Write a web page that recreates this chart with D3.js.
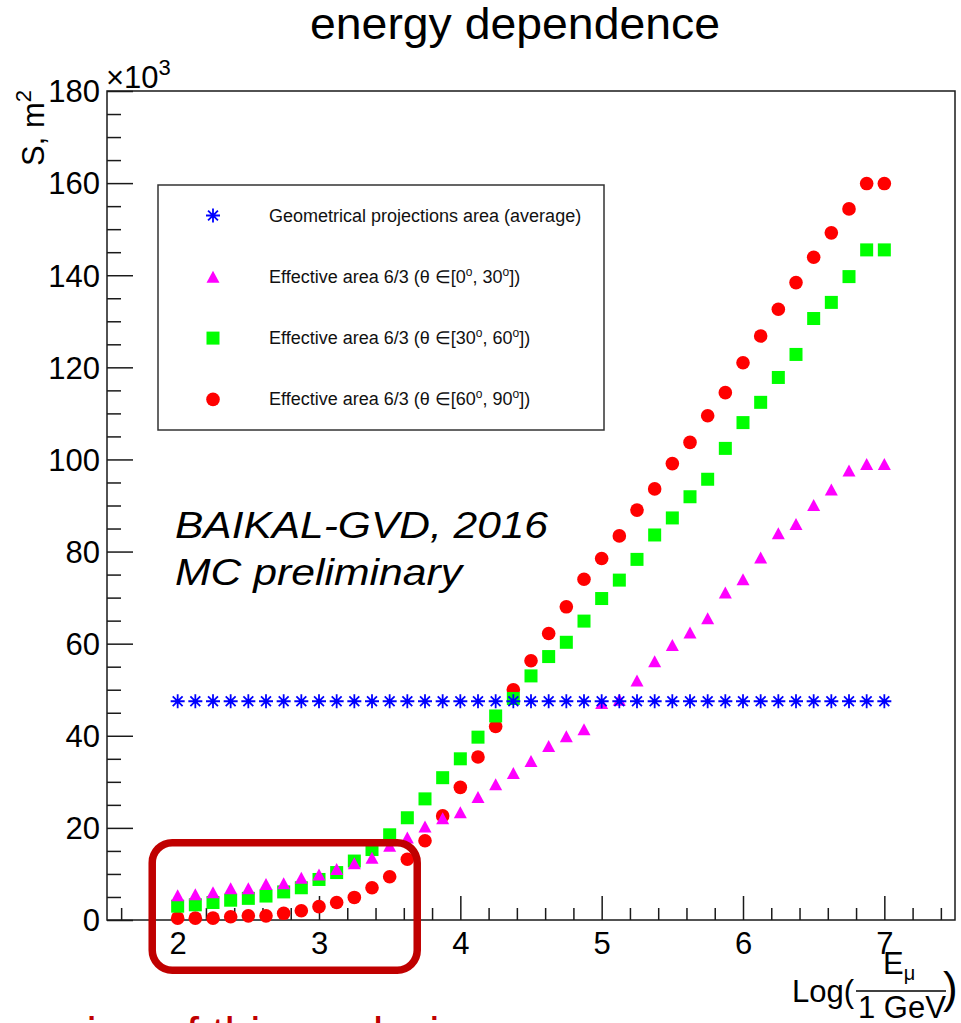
<!DOCTYPE html>
<html>
<head>
<meta charset="utf-8">
<script src="https://cdn.jsdelivr.net/npm/d3@7"></script>
<style>
  html, body { margin: 0; padding: 0; background: #fff; }
  svg { display: block; font-family: "Liberation Sans", Arial, Helvetica, sans-serif; }
</style>
</head>
<body>
<svg id="chart" width="961" height="1023"></svg>
<script>
// log10(E_mu / 1 GeV) bin centres
const logEnergy = [
  2.000, 2.125, 2.250, 2.375, 2.500, 2.625, 2.750, 2.875,
  3.000, 3.125, 3.250, 3.375, 3.500, 3.625, 3.750, 3.875,
  4.000, 4.125, 4.250, 4.375, 4.500, 4.625, 4.750, 4.875,
  5.000, 5.125, 5.250, 5.375, 5.500, 5.625, 5.750, 5.875,
  6.000, 6.125, 6.250, 6.375, 6.500, 6.625, 6.750, 6.875, 7.000
];

// Areas in units of 10^3 m^2
const geomArea = [
  47.5, 47.5, 47.5, 47.5, 47.5, 47.5, 47.5, 47.5,
  47.5, 47.5, 47.5, 47.5, 47.5, 47.5, 47.5, 47.5,
  47.5, 47.5, 47.5, 47.5, 47.5, 47.5, 47.5, 47.5,
  47.5, 47.5, 47.5, 47.5, 47.5, 47.5, 47.5, 47.5,
  47.5, 47.5, 47.5, 47.5, 47.5, 47.5, 47.5, 47.5, 47.5
];
const effArea0to30 = [
  5.4, 5.6, 6.0, 6.9, 6.9, 7.8, 8.0, 9.2,
  9.9, 11.1, 12.3, 13.5, 16.1, 17.9, 20.3, 22.1,
  23.4, 26.7, 29.5, 31.9, 34.5, 37.8, 39.9, 41.4,
  47.1, 47.8, 52.0, 56.2, 59.7, 62.4, 65.5, 71.1,
  74.0, 78.7, 84.0, 86.0, 90.1, 93.5, 97.6, 99.0, 99.0
];
const effArea30to60 = [
  3.0, 3.3, 3.8, 4.3, 4.7, 5.2, 6.1, 7.0,
  8.8, 10.3, 12.8, 15.3, 18.5, 22.2, 26.3, 30.9,
  35.0, 39.7, 44.3, 48.1, 53.0, 57.2, 60.3, 64.9,
  69.8, 73.8, 78.3, 83.6, 87.3, 91.9, 95.7, 102.4,
  108.0, 112.4, 117.8, 122.8, 130.6, 134.1, 139.7, 145.5, 145.5
];
const effArea60to90 = [
  0.4, 0.4, 0.4, 0.7, 0.9, 0.9, 1.45, 2.0,
  2.9, 3.8, 4.9, 7.0, 9.4, 13.2, 17.2, 22.6,
  28.8, 35.4, 42.0, 50.0, 56.3, 62.2, 68.0, 74.0,
  78.5, 83.4, 89.0, 93.6, 99.1, 103.7, 109.5, 114.5,
  121.0, 126.8, 132.6, 138.4, 143.9, 149.2, 154.4, 159.9, 159.9
];

const xTickLabels = [2, 3, 4, 5, 6, 7];
const yTickLabels = [0, 20, 40, 60, 80, 100, 120, 140, 160, 180];

const legendLabels = [
  { text: "Geometrical projections area (average)" },
  { text: "Effective area 6/3 (θ ∈[", lo: "0", hi: "30" },
  { text: "Effective area 6/3 (θ ∈[", lo: "30", hi: "60" },
  { text: "Effective area 6/3 (θ ∈[", lo: "60", hi: "90" }
];

const svg = d3.select("#chart");

const x = d3.scaleLinear().domain([1.5, 7.5]).range([107, 955]);
const y = d3.scaleLinear().domain([0, 180]).range([920, 91]);

const axisColor = "#1a1a1a";

// Title
svg.append("text")
  .attr("x", 515).attr("y", 39)
  .attr("text-anchor", "middle")
  .attr("font-size", 44)
  .attr("textLength", 410).attr("lengthAdjust", "spacingAndGlyphs")
  .text("energy dependence");

// Frame
svg.append("rect")
  .attr("x", x(1.5)).attr("y", y(180))
  .attr("width", x(7.5) - x(1.5)).attr("height", y(0) - y(180))
  .attr("fill", "none").attr("stroke", axisColor).attr("stroke-width", 1.5);

// X axis: major ticks with labels, minor ticks every 0.2
const xMinor = d3.range(1.6, 7.45, 0.2).filter(v => Math.abs(v - Math.round(v)) > 1e-6);
const xAxisMinor = svg.append("g").attr("transform", `translate(0,${y(0)})`)
  .call(d3.axisBottom(x).tickValues(xMinor).tickSize(-12).tickFormat(""));
const xAxisMajor = svg.append("g").attr("transform", `translate(0,${y(0)})`)
  .call(d3.axisBottom(x).tickValues(xTickLabels).tickSize(-24).tickPadding(12).tickFormat(d3.format("d")));

// Y axis: major ticks every 20, minor every 5
const yMinor = d3.range(5, 180, 5).filter(v => v % 20 !== 0);
const yAxisMinor = svg.append("g").attr("transform", `translate(${x(1.5)},0)`)
  .call(d3.axisLeft(y).tickValues(yMinor).tickSize(-14).tickFormat(""));
const yAxisMajor = svg.append("g").attr("transform", `translate(${x(1.5)},0)`)
  .call(d3.axisLeft(y).tickValues(yTickLabels).tickSize(-26).tickPadding(7).tickFormat(d3.format("d")));

[xAxisMinor, xAxisMajor, yAxisMinor, yAxisMajor].forEach(g => {
  g.select(".domain").remove();
  g.selectAll(".tick line").attr("stroke", axisColor).attr("stroke-width", 1.5);
  g.selectAll(".tick text")
    .attr("fill", "#000")
    .attr("font-size", 31)
    .attr("font-family", "Liberation Sans, Arial, sans-serif");
});
yAxisMajor.selectAll(".tick text").attr("dy", "0.35em");

// Exponent label above the y axis
const expLabel = svg.append("text").attr("x", 106).attr("y", 88).attr("font-size", 31);
expLabel.append("tspan").text("×10");
expLabel.append("tspan").attr("font-size", 22).attr("dy", -13).text("3");

// Y axis title
const yTitle = svg.append("text")
  .attr("transform", "translate(44,90) rotate(-90)")
  .attr("text-anchor", "end")
  .attr("font-size", 31);
yTitle.append("tspan").text("S, m");
yTitle.append("tspan").attr("font-size", 22).attr("dy", -13).text("2");

// X axis title: Log(E_mu / 1 GeV)
const xt = svg.append("g");
xt.append("text").attr("x", 792).attr("y", 1002).attr("font-size", 31).text("Log(");
const num = xt.append("text").attr("x", 883).attr("y", 974).attr("font-size", 31);
num.append("tspan").text("E");
num.append("tspan").attr("font-size", 20).attr("dy", 6).text("μ");
xt.append("line").attr("x1", 856).attr("x2", 946).attr("y1", 991).attr("y2", 991)
  .attr("stroke", "#000").attr("stroke-width", 1.5);
xt.append("text").attr("x", 858).attr("y", 1018).attr("font-size", 31).text("1 GeV");
xt.append("text").attr("x", 943).attr("y", 1003).attr("font-size", 44).text(")");

// Marker shapes
const markerSize = 14;
function drawStar(g, cx, cy, color) {
  const r = markerSize / 2;
  const s = r * Math.SQRT1_2;
  const p = `M${cx - r},${cy}L${cx + r},${cy}M${cx},${cy - r}L${cx},${cy + r}` +
            `M${cx - s},${cy - s}L${cx + s},${cy + s}M${cx - s},${cy + s}L${cx + s},${cy - s}`;
  g.append("path").attr("d", p).attr("stroke", color).attr("stroke-width", 1.8).attr("fill", "none");
  g.append("circle").attr("cx", cx).attr("cy", cy).attr("r", 2.2).attr("fill", color);
}
function drawTriangle(g, cx, cy, color) {
  const w = 13, h = 12;
  g.append("path")
    .attr("d", `M${cx},${cy - h / 2}L${cx + w / 2},${cy + h / 2}L${cx - w / 2},${cy + h / 2}Z`)
    .attr("fill", color);
}
function drawSquare(g, cx, cy, color) {
  const a = 13;
  g.append("rect").attr("x", cx - a / 2).attr("y", cy - a / 2).attr("width", a).attr("height", a).attr("fill", color);
}
function drawCircle(g, cx, cy, color) {
  g.append("circle").attr("cx", cx).attr("cy", cy).attr("r", 6.8).attr("fill", color);
}

const series = [
  { values: effArea60to90, color: "#ff0000", draw: drawCircle },
  { values: effArea30to60, color: "#00ff00", draw: drawSquare },
  { values: effArea0to30, color: "#ff00ff", draw: drawTriangle },
  { values: geomArea, color: "#0000ff", draw: drawStar }
];

series.forEach(s => {
  const g = svg.append("g");
  s.values.forEach((v, i) => s.draw(g, x(logEnergy[i]), y(v), s.color));
});

// Legend
const legend = svg.append("g");
legend.append("rect")
  .attr("x", 158).attr("y", 185).attr("width", 446).attr("height", 245)
  .attr("fill", "#fff").attr("stroke", "#333").attr("stroke-width", 1.5);
const legendDraw = [drawStar, drawTriangle, drawSquare, drawCircle];
const legendColors = ["#0000ff", "#ff00ff", "#00ff00", "#ff0000"];
legendLabels.forEach((d, i) => {
  const cy = 215.5 + i * 61.3;
  legendDraw[i](legend, 213, cy, legendColors[i]);
  const t = legend.append("text").attr("x", 269).attr("y", cy + 6).attr("font-size", 18).attr("fill", "#111");
  t.append("tspan").text(d.text);
  if (d.lo !== undefined) {
    t.append("tspan").text(d.lo);
    t.append("tspan").attr("font-size", 12).attr("dy", -7).text("o");
    t.append("tspan").attr("dy", 7).text(", " + d.hi);
    t.append("tspan").attr("font-size", 12).attr("dy", -7).text("o");
    t.append("tspan").attr("dy", 7).text("])");
  }
});

// Experiment tag
svg.append("text").attr("x", 175).attr("y", 538).attr("font-size", 37).attr("font-style", "italic")
  .attr("textLength", 373).attr("lengthAdjust", "spacingAndGlyphs").text("BAIKAL-GVD, 2016");
svg.append("text").attr("x", 175).attr("y", 585).attr("font-size", 37).attr("font-style", "italic")
  .attr("textLength", 287).attr("lengthAdjust", "spacingAndGlyphs").text("MC preliminary");

// Highlighted low-energy region
svg.append("rect")
  .attr("x", x(1.82)).attr("y", y(16.8))
  .attr("width", x(3.695) - x(1.82)).attr("height", y(-10.9) - y(16.8))
  .attr("rx", 20).attr("ry", 20)
  .attr("fill", "none").attr("stroke", "#c00000").attr("stroke-width", 7.5);

svg.append("text").attr("x", 20).attr("y", 1050).attr("font-size", 46).attr("fill", "#c00000")
  .text("region of this analysis");
</script>
</body>
</html>
